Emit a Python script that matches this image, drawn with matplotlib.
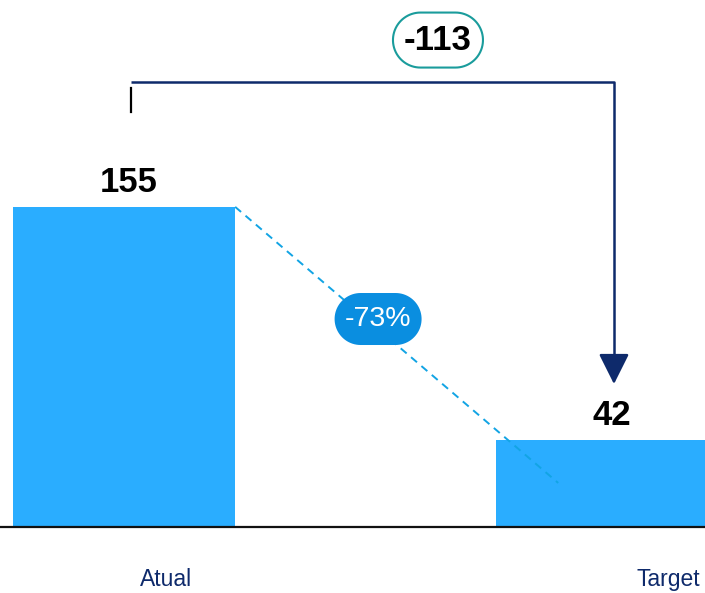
import matplotlib
matplotlib.use("Agg")
import numpy as np
import matplotlib.pyplot as plt
from matplotlib.path import Path
from matplotlib.patches import PathPatch
from matplotlib.transforms import ScaledTranslation

plt.rcParams["font.family"] = ["Liberation Sans", "DejaVu Sans"]

# data
categories = ["Atual", "Target"]
values = [155, 42]
delta_label = "-113"
pct_label = "-73%"

BAR = "#2AADFF"
NAVY = "#0E2A6B"
TEAL = "#1A9C9C"
PILL = "#0A8EE0"
DASH = "#12A4E4"


def pill(ax, x, y, w_px, h_px, fc, ec, lw=1.5):
    # stadium shape sized in pixels, anchored at a data point
    dpi = ax.figure.dpi
    w, h = w_px / dpi, h_px / dpi
    r = h / 2
    cx = w / 2 - r
    t1 = np.linspace(-np.pi / 2, np.pi / 2, 40)
    t2 = np.linspace(np.pi / 2, 3 * np.pi / 2, 40)
    pts = np.concatenate([
        np.c_[cx + r * np.cos(t1), r * np.sin(t1)],
        np.c_[-cx + r * np.cos(t2), r * np.sin(t2)],
    ])
    pts = np.vstack([pts, pts[:1]])
    codes = [Path.MOVETO] + [Path.LINETO] * (len(pts) - 2) + [Path.CLOSEPOLY]
    tr = ax.figure.dpi_scale_trans + ScaledTranslation(x, y, ax.transData)
    ax.add_patch(PathPatch(Path(pts, codes), fc=fc, ec=ec, lw=lw,
                           transform=tr, zorder=4))


fig = plt.figure(figsize=(7.05, 5.93), dpi=100, facecolor="white")
ax = fig.add_axes([0, 0, 1, 1])
ax.set_xlim(-0.257, 1.203)
ax.set_ylim(-32, 255.2)
ax.axis("off")

pos = list(range(len(categories)))
width = 0.46
ax.bar(pos, values, width=width, color=BAR, zorder=2)
ax.axhline(0, color="#111111", lw=1.6, zorder=3)

# value labels
for x, v in zip(pos, values):
    ax.text(x + 0.01, v + 12, f"{v}", ha="center", va="center",
            fontsize=25, fontweight="bold", color="black")

# category labels (shifted right like the source)
for x, c in zip(pos, categories):
    ax.text(x + 0.087 + (0.04 if x else 0), -25.5, c, ha="center", va="center",
            fontsize=16.5, color=NAVY)

# dashed connector from top of first bar
ax.plot([pos[0] + width / 2, 0.899], [values[0], 21.3], ls=(0, (4, 3)),
        color=DASH, lw=1.4, zorder=3)
pill(ax, 0.526, 100.7, 87, 52, PILL, PILL, lw=0)
ax.text(0.526, 100.7, pct_label, ha="center", va="center", fontsize=20.5,
        color="white", zorder=5)

# bracket with arrow
x0, x1, ytop = pos[0] + 0.0145, pos[1] + 0.0145, 215.5
ax.plot([x0, x0], [201.0, 212.6], color="black", lw=1.6)
ax.plot([x0, x1, x1], [ytop, ytop, 80], color=NAVY, lw=1.8, solid_capstyle="butt")
ax.annotate("", xy=(x1, 69.2), xytext=(x1, 82),
            arrowprops=dict(arrowstyle="-|>,head_length=0.94,head_width=0.47",
                            color=NAVY, lw=1.8, mutation_scale=20,
                            shrinkA=0, shrinkB=0))
pill(ax, 0.650, 235.8, 90, 55, "white", TEAL, lw=1.5)
ax.text(0.650, 235.8, delta_label, ha="center", va="center", fontsize=25,
        fontweight="bold", color="black", zorder=5)

fig.savefig("out.png", dpi=100, facecolor="white")
